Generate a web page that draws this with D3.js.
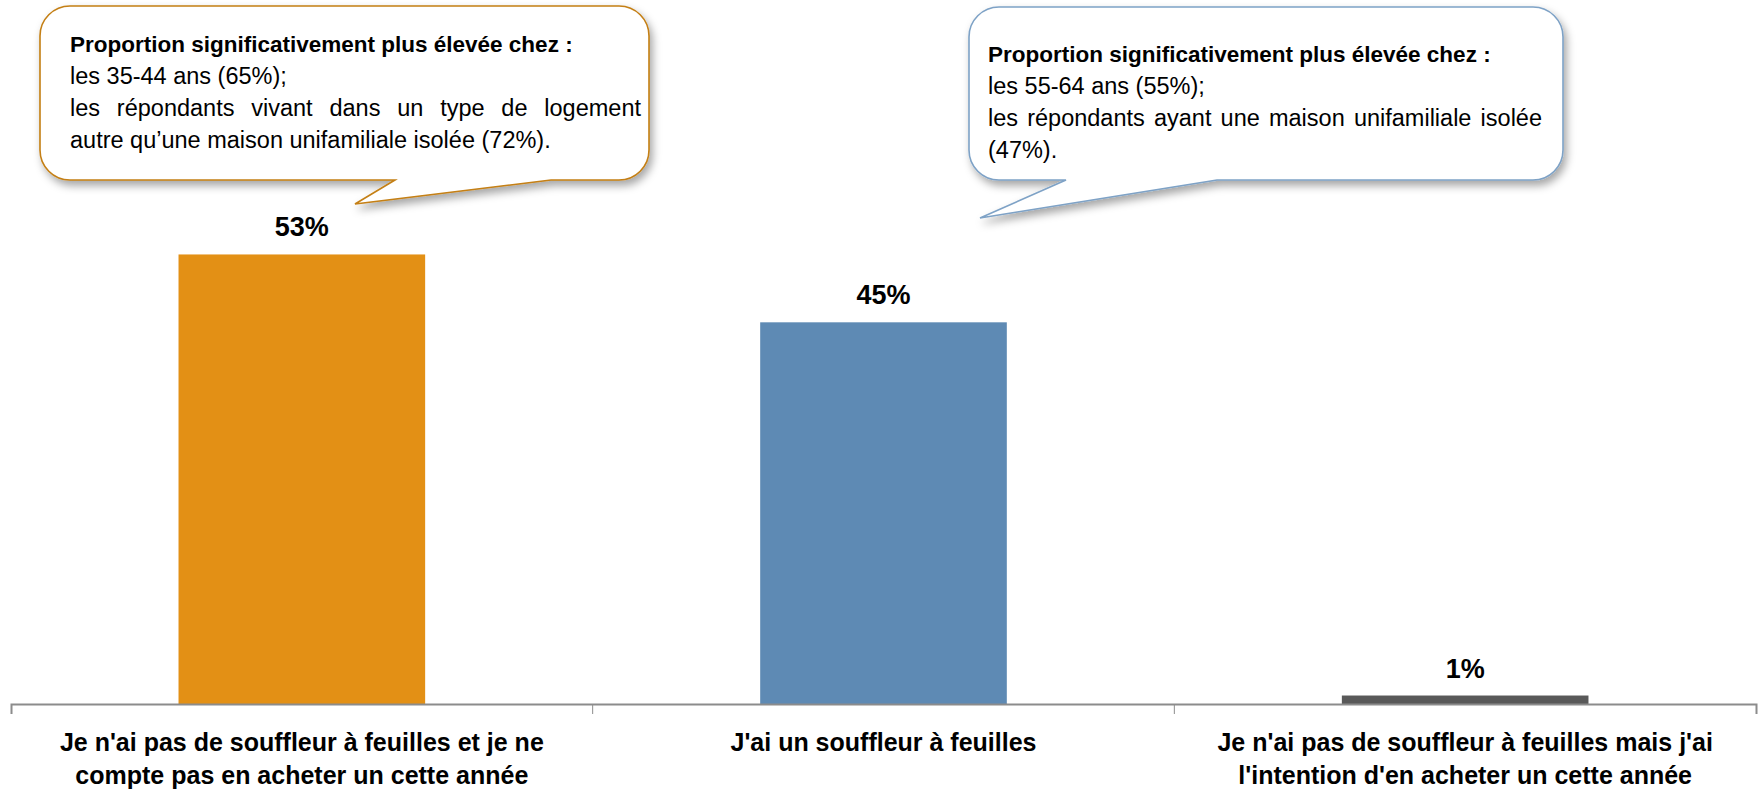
<!DOCTYPE html>
<html>
<head>
<meta charset="utf-8">
<script src="https://cdn.jsdelivr.net/npm/d3@7"></script>
<style>
  body { margin: 0; background: #fff; }
  svg { display: block; font-family: 'Liberation Sans', Arial, sans-serif; }
  .value-label { font-weight: bold; font-size: 27px; fill: #000; }
  .cat-label { font-weight: bold; font-size: 25px; fill: #000; }
  .note-title { font-weight: bold; font-size: 22.5px; fill: #000; }
  .note-line { font-size: 23.5px; fill: #000; }
</style>
</head>
<body>
<svg></svg>
<script>
// chart data
const categories = [
  "Je n'ai pas de souffleur à feuilles et je ne compte pas en acheter un cette année",
  "J'ai un souffleur à feuilles",
  "Je n'ai pas de souffleur à feuilles mais j'ai l'intention d'en acheter un cette année"
]
const categoryLines = [
  ["Je n'ai pas de souffleur à feuilles et je ne", 'compte pas en acheter un cette année'],
  ["J'ai un souffleur à feuilles"],
  ["Je n'ai pas de souffleur à feuilles mais j'ai", "l'intention d'en acheter un cette année"]
]
const values = [53, 45, 1]
const barColors = ['#E39015', '#5E8AB4', '#595959']

// callout notes
const noteTitle = 'Proportion significativement plus élevée chez :'
const leftNoteLines = [
  'les 35-44 ans (65%);',
  'les répondants vivant dans un type de logement',
  'autre qu’une maison unifamiliale isolée (72%).'
]
const rightNoteLines = [
  'les 55-64 ans (55%);',
  'les répondants ayant une maison unifamiliale isolée',
  '(47%).'
]

const w = 1763
const h = 792

const svg = d3.select('svg')
  .attr('width', w)
  .attr('height', h)

// drop shadow for callouts
const defs = svg.append('defs')
defs.append('filter')
  .attr('id', 'shadow')
  .attr('x', '-10%').attr('y', '-10%')
  .attr('width', '130%').attr('height', '140%')
  .append('feDropShadow')
  .attr('dx', 3)
  .attr('dy', 5)
  .attr('stdDeviation', 4)
  .attr('flood-color', '#000')
  .attr('flood-opacity', 0.35)

// scales
const axisY = 704
const xScale = d3.scaleBand()
  .domain(categories)
  .range([11, 1756])
  .paddingInner(0.576)
  .paddingOuter(0.288)

const yScale = d3.scaleLinear()
  .domain([0, 83])
  .range([axisY, 0])

// bars
svg.selectAll('.bar')
  .data(values)
  .enter()
  .append('rect')
  .attr('class', 'bar')
  .attr('x', (d, i) => xScale(categories[i]))
  .attr('y', (d) => yScale(d))
  .attr('width', xScale.bandwidth())
  .attr('height', (d) => yScale(0) - yScale(d))
  .attr('fill', (d, i) => barColors[i])

// value labels
svg.selectAll('.value-label')
  .data(values)
  .enter()
  .append('text')
  .attr('class', 'value-label')
  .attr('text-anchor', 'middle')
  .attr('x', (d, i) => xScale(categories[i]) + xScale.bandwidth() / 2)
  .attr('y', (d) => yScale(d) - 18)
  .text((d) => d + '%')

// x axis: domain line with outer ticks, category boundaries as inner ticks
const xAxis = d3.axisBottom(xScale)
  .tickSizeInner(0)
  .tickSizeOuter(10)
  .tickFormat('')

const axisG = svg.append('g')
  .attr('transform', `translate(0, ${axisY})`)
  .call(xAxis)
axisG.select('.domain')
  .attr('stroke', '#8C8C8C')
  .attr('stroke-width', 2)
axisG.selectAll('.tick').remove()

const step = xScale.step()
axisG.selectAll('.boundary')
  .data(categories.slice(1))
  .enter()
  .append('line')
  .attr('class', 'boundary')
  .attr('x1', (d) => xScale(d) - step * xScale.paddingInner() / 2)
  .attr('x2', (d) => xScale(d) - step * xScale.paddingInner() / 2)
  .attr('y1', 0)
  .attr('y2', 10)
  .attr('stroke', '#8C8C8C')
  .attr('stroke-width', 1)

// category labels
const catG = svg.selectAll('.cat-label')
  .data(categoryLines)
  .enter()
  .append('text')
  .attr('class', 'cat-label')
  .attr('text-anchor', 'middle')
  .attr('transform', (d, i) => `translate(${xScale(categories[i]) + xScale.bandwidth() / 2}, 751)`)

catG.selectAll('tspan')
  .data((d) => d)
  .enter()
  .append('tspan')
  .attr('x', 0)
  .attr('y', (d, i) => i * 33)
  .text((d) => d)

// callout boxes
const calloutPath = (c) => {
  const r = c.r
  return `M${c.x0 + r},${c.y0} H${c.x1 - r} A${r},${r} 0 0 1 ${c.x1},${c.y0 + r}` +
    ` V${c.y1 - r} A${r},${r} 0 0 1 ${c.x1 - r},${c.y1}` +
    ` H${c.b2} L${c.tx},${c.ty} L${c.b1},${c.y1}` +
    ` H${c.x0 + r} A${r},${r} 0 0 1 ${c.x0},${c.y1 - r}` +
    ` V${c.y0 + r} A${r},${r} 0 0 1 ${c.x0 + r},${c.y0} Z`
}

const notes = [
  { x0: 40, y0: 6, x1: 649, y1: 180, r: 30, b1: 395, b2: 551, tx: 355, ty: 204,
    stroke: '#C47F14', tx0: 70, tx1: 641, ty0: 52, lines: leftNoteLines, justify: [false, true, false] },
  { x0: 969, y0: 7, x1: 1563, y1: 180, r: 30, b1: 1066, b2: 1217, tx: 980, ty: 218,
    stroke: '#7EA2C6', tx0: 988, tx1: 1542, ty0: 62, lines: rightNoteLines, justify: [false, true, false] }
]

notes.forEach((n) => {
  const g = svg.append('g')
  g.append('path')
    .attr('d', calloutPath(n))
    .attr('fill', '#fff')
    .attr('stroke', n.stroke)
    .attr('stroke-width', 1.6)
    .attr('filter', 'url(#shadow)')

  g.append('text')
    .attr('class', 'note-title')
    .attr('x', n.tx0)
    .attr('y', n.ty0)
    .text(noteTitle)

  n.lines.forEach((line, i) => {
    const y = n.ty0 + (i + 1) * 32
    if (!n.justify[i]) {
      g.append('text')
        .attr('class', 'note-line')
        .attr('x', n.tx0)
        .attr('y', y)
        .text(line)
      return
    }
    // justified line: spread words across the box width
    const words = line.split(' ')
    const nodes = words.map((wd) => g.append('text')
      .attr('class', 'note-line')
      .attr('y', y)
      .text(wd))
    const widths = nodes.map((t) => t.node().getComputedTextLength())
    const gap = (n.tx1 - n.tx0 - d3.sum(widths)) / (words.length - 1)
    let x = n.tx0
    nodes.forEach((t, k) => {
      t.attr('x', x)
      x += widths[k] + gap
    })
  })
})
</script>
</body>
</html>
